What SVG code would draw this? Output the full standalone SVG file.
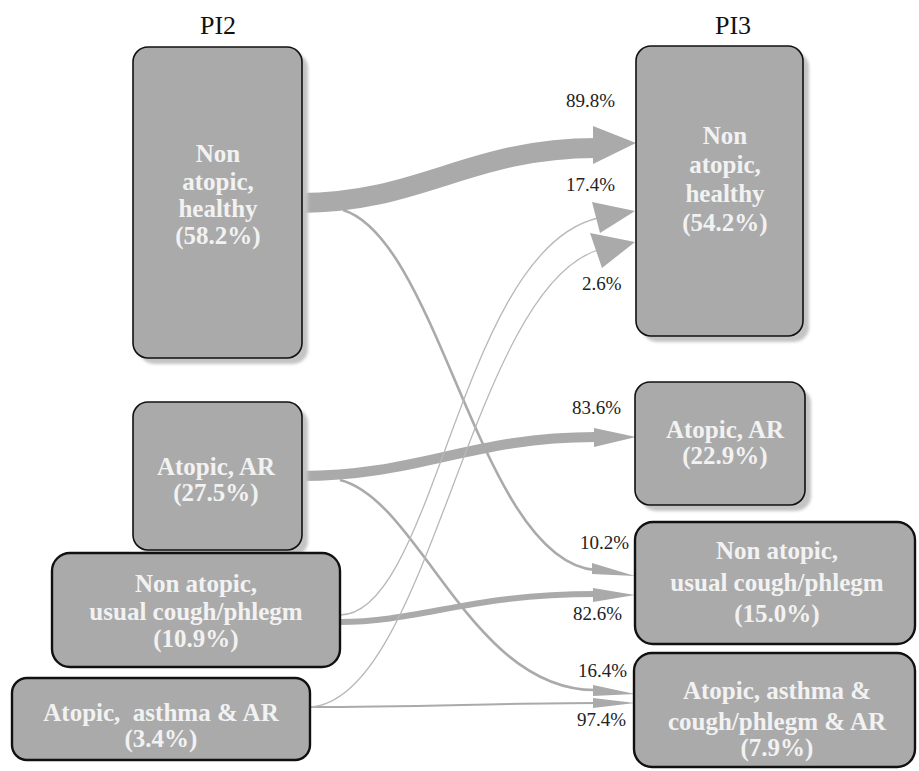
<svg xmlns="http://www.w3.org/2000/svg" width="919" height="771" viewBox="0 0 919 771">
<style>
.box{fill:#aaaaaa;stroke:#111;stroke-width:1.6}
.box2{fill:#aaaaaa;stroke:#111;stroke-width:2.4}
.shadow{fill:#c4c4c4}
.lbl{font-weight:bold;font-size:25px;fill:#f2f2f2;text-anchor:middle}
.title{font-size:26px;fill:#111;text-anchor:middle}
.pct{font-size:19px;fill:#222}
.flow{fill:none;stroke:#aaaaaa}
.thin{fill:none;stroke:#b8b8b8;stroke-width:1.3}
.head{fill:#aaaaaa}
</style>
<defs>
<filter id="blur" x="-10%" y="-10%" width="120%" height="120%"><feGaussianBlur stdDeviation="1.5"/></filter>
</defs>
<rect width="919" height="771" fill="#ffffff"/>
<g font-family="'Liberation Serif', 'Times New Roman', 'DejaVu Serif', serif">
<text class="title" x="218" y="34">PI2</text>
<text class="title" x="733" y="34">PI3</text>

<g id="connectors">
<path class="flow" stroke-width="20" d="M300,203 C420,203 470,148 596,148"/>
<polygon class="head" points="593,126 636,143 593,164"/>
<path class="flow" stroke-width="10" d="M300,476 C420,476 470,437 596,437"/>
<polygon class="head" points="594,428 636,437 594,447"/>
<path class="flow" stroke-width="2.6" d="M343,210 C440,240 480,560 595,570"/>
<polygon class="head" points="592,563 635,576 592,574"/>
<path class="flow" stroke-width="2.6" d="M340,480 C420,500 470,690 595,690"/>
<polygon class="head" points="593,685 635,694 593,696"/>
<path class="flow" stroke-width="6" d="M339,622 C420,622 470,594 596,594"/>
<polygon class="head" points="593,588 635,595 593,602"/>
<path class="flow" stroke-width="2" d="M310,707 C420,707 500,703 596,703"/>
<polygon class="head" points="593,698 635,703 593,708"/>
<path class="thin" d="M340,615 C435,615 460,250 598,218"/>
<polygon class="head" points="592,202 635,211 600,233"/>
<path class="thin" d="M310,707 C430,700 470,290 598,250"/>
<polygon class="head" points="590,233 635,242 602,268"/>
</g>

<g id="pi2-nonatopic-healthy">
<rect class="shadow" x="139" y="53" width="169" height="311" rx="15" filter="url(#blur)"/>
<rect class="box" x="133" y="47" width="169" height="311" rx="15"/>
<text class="lbl" x="218" y="162">Non</text>
<text class="lbl" x="218" y="190">atopic,</text>
<text class="lbl" x="218" y="217">healthy</text>
<text class="lbl" x="218" y="244">(58.2%)</text>
</g>

<g id="pi2-atopic-ar">
<rect class="shadow" x="139" y="408" width="169" height="148" rx="15" filter="url(#blur)"/>
<rect class="box" x="133" y="402" width="169" height="148" rx="15"/>
<text class="lbl" x="216" y="475">Atopic, AR</text>
<text class="lbl" x="216" y="501">(27.5%)</text>
</g>

<g id="pi2-nonatopic-cough">
<rect class="box2" x="52" y="553" width="288" height="114" rx="18"/>
<text class="lbl" x="196" y="592">Non atopic,</text>
<text class="lbl" x="196" y="620">usual cough/phlegm</text>
<text class="lbl" x="196" y="647">(10.9%)</text>
</g>

<g id="pi2-atopic-asthma-ar">
<rect class="box2" x="12" y="678" width="298" height="82" rx="15"/>
<text class="lbl" x="161" y="721" xml:space="preserve">Atopic,  asthma &amp; AR</text>
<text class="lbl" x="161" y="747">(3.4%)</text>
</g>

<g id="pi3-nonatopic-healthy">
<rect class="shadow" x="642" y="52" width="167" height="290" rx="15" filter="url(#blur)"/>
<rect class="box" x="636" y="46" width="167" height="290" rx="15"/>
<text class="lbl" x="725" y="144">Non</text>
<text class="lbl" x="725" y="173">atopic,</text>
<text class="lbl" x="725" y="202">healthy</text>
<text class="lbl" x="725" y="231">(54.2%)</text>
</g>

<g id="pi3-atopic-ar">
<rect class="shadow" x="641" y="388" width="170" height="123" rx="15" filter="url(#blur)"/>
<rect class="box" x="635" y="382" width="170" height="123" rx="15"/>
<text class="lbl" x="725" y="438">Atopic, AR</text>
<text class="lbl" x="725" y="464">(22.9%)</text>
</g>

<g id="pi3-nonatopic-cough">
<rect class="box2" x="635" y="522" width="280" height="122" rx="18"/>
<text class="lbl" x="777" y="559">Non atopic,</text>
<text class="lbl" x="777" y="591">usual cough/phlegm</text>
<text class="lbl" x="777" y="622">(15.0%)</text>
</g>

<g id="pi3-atopic-asthma-cough-ar">
<rect class="box2" x="634" y="653" width="281" height="114" rx="18"/>
<text class="lbl" x="777" y="699">Atopic, asthma &amp;</text>
<text class="lbl" x="777" y="730">cough/phlegm &amp; AR</text>
<text class="lbl" x="777" y="756">(7.9%)</text>
</g>

<g id="labels">
<text class="pct" x="566" y="107">89.8%</text>
<text class="pct" x="566" y="191">17.4%</text>
<text class="pct" x="582" y="290">2.6%</text>
<text class="pct" x="572" y="414">83.6%</text>
<text class="pct" x="580" y="549">10.2%</text>
<text class="pct" x="573" y="620">82.6%</text>
<text class="pct" x="578" y="677">16.4%</text>
<text class="pct" x="577" y="726">97.4%</text>
</g>
</g>
</svg>
